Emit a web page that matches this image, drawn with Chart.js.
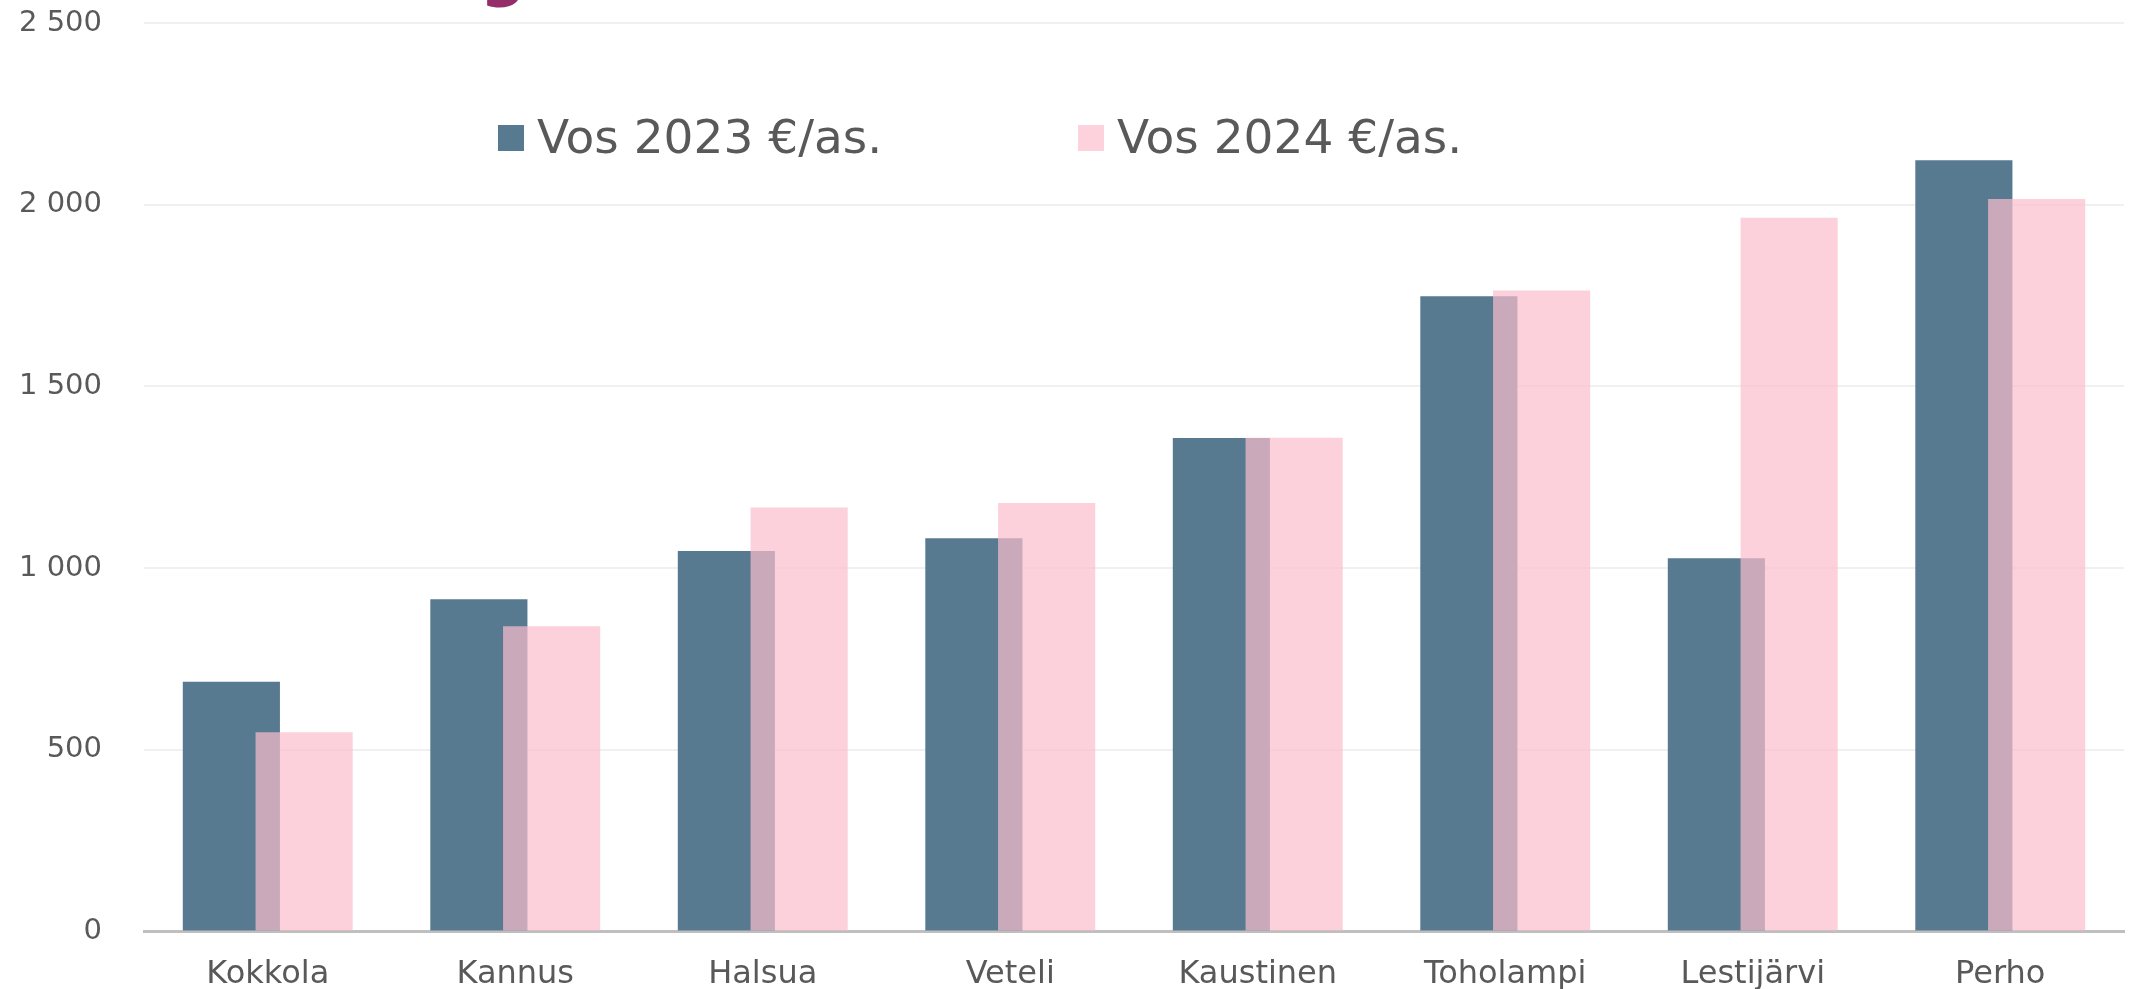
<!DOCTYPE html>
<html lang="fi">
<head>
<meta charset="utf-8">
<script src="https://cdn.jsdelivr.net/npm/chart.js@4.4.1/dist/chart.umd.min.js"></script>
<style>
    html, body { margin: 0; padding: 0; background: #ffffff; }
    #wrap { width: 2133px; height: 989px; position: relative; }
</style>
</head>
<body>
<div id="wrap"><canvas id="vosChart"></canvas></div>
<script>
// Data
const municipalities = ['Kokkola', 'Kannus', 'Halsua', 'Veteli', 'Kaustinen', 'Toholampi', 'Lestijärvi', 'Perho'];
const vos2023 = [687, 914, 1047, 1082, 1358, 1748, 1027, 2122];
const vos2024 = [548, 840, 1167, 1179, 1359, 1764, 1964, 2016];
const seriesLabels = ['Vos 2023 €/as.', 'Vos 2024 €/as.'];
const yTicks = [0, 500, 1000, 1500, 2000, 2500];

const textColor = '#595959';
const blue = '#587A90';
const pink = 'rgba(251, 190, 205, 0.7)';

function formatThousands(v) {
    return String(v).replace(/\B(?=(\d{3})+(?!\d))/g, ' ');
}

// 2024 bars are drawn over the 2023 bars (Chart.js draws dataset 0 last by default)
const pinkOnTop = {
    id: 'pinkOnTop',
    beforeDatasetDraw(chart, args) {
        if (args.index === 1) return false;
    },
    afterDatasetsDraw(chart) {
        const meta = chart.getDatasetMeta(1);
        if (!meta.hidden) meta.controller.draw();
    }
};

// Legend sits inside the plot area, so it is drawn by hand
const innerLegend = {
    id: 'innerLegend',
    afterDraw(chart) {
        const ctx = chart.ctx;
        const startX = 498, stepX = 580, boxTop = 125, box = 26;
        ctx.save();
        ctx.font = '47px "DejaVu Sans"';
        ctx.textBaseline = 'alphabetic';
        ctx.textAlign = 'left';
        chart.data.datasets.forEach((ds, i) => {
            const x = startX + i * stepX;
            ctx.fillStyle = ds.legendColor;
            ctx.fillRect(x, boxTop, box, box);
            ctx.fillStyle = textColor;
            ctx.fillText(ds.label, x + box + 13, 153);
        });
        // clipped title descender at the very top
        ctx.fillStyle = '#962D6B';
        ctx.font = 'bold 64px "DejaVu Sans"';
        ctx.textAlign = 'center';
        ctx.fillText('g', 503, -6);
        ctx.restore();
    }
};

const ctx = document.getElementById('vosChart').getContext('2d');
new Chart(ctx, {
    type: 'bar',
    data: {
        labels: municipalities,
        datasets: [{
            label: seriesLabels[0],
            data: vos2023,
            backgroundColor: blue,
            legendColor: blue,
            borderWidth: 0
        }, {
            label: seriesLabels[1],
            data: vos2024,
            backgroundColor: pink,
            legendColor: '#FDD2DD',
            borderWidth: 0
        }]
    },
    options: {
        responsive: true,
        maintainAspectRatio: false,
        animation: false,
        categoryPercentage: 0.588,
        barPercentage: 1.335,
        layout: { padding: { top: 23, right: 9, left: 0, bottom: 0 } },
        plugins: {
            legend: { display: false },
            tooltip: { enabled: false }
        },
        scales: {
            x: {
                grid: { display: false, drawTicks: false },
                border: { display: true, color: '#BFBFBF', width: 3 },
                ticks: {
                    color: textColor,
                    font: { family: 'DejaVu Sans', size: 32 },
                    padding: 24,
                    maxRotation: 0
                },
                afterFit(scale) { scale.height = 57.5; }
            },
            y: {
                min: 0,
                max: 2500,
                afterBuildTicks(scale) {
                    scale.ticks = yTicks.map(v => ({ value: v }));
                },
                grid: { color: '#F0F0F0', lineWidth: 2, drawTicks: false },
                border: { display: false },
                ticks: {
                    color: textColor,
                    font: { family: 'DejaVu Sans', size: 29 },
                    padding: 42,
                    callback: value => formatThousands(value)
                },
                afterFit(scale) {
                    scale.width = 144;
                    scale.paddingTop = 0;
                    scale.paddingBottom = 0;
                }
            }
        }
    },
    plugins: [pinkOnTop, innerLegend]
});
</script>
</body>
</html>
